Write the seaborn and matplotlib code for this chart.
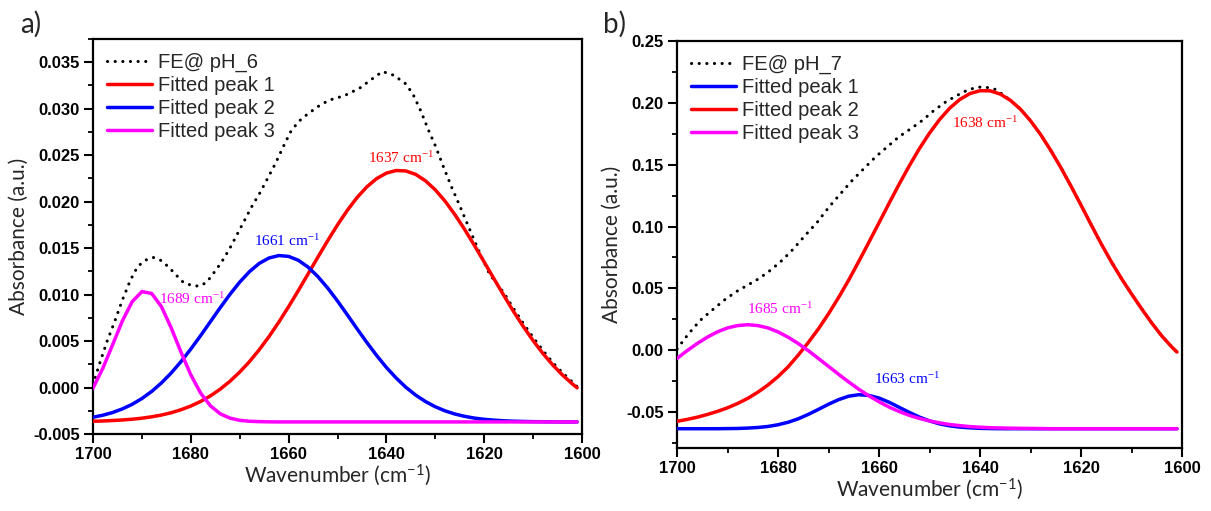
import matplotlib
matplotlib.use("Agg")
import matplotlib.pyplot as plt
import seaborn as sns
from matplotlib.ticker import MultipleLocator

# ---------------- data ----------------
fit_x = list(range(1700, 1601, -2)) + [1601]

# panel a (pH 6)
a_meas_x = [1700, 1698.7, 1697.1, 1695.5, 1694.0, 1692.4, 1690.9, 1689.3, 1687.7, 1686.2,
            1684.6, 1683.0, 1681.5, 1679.9, 1678.3, 1676.8, 1675.2, 1673.7, 1672.1, 1670.5,
            1669.0, 1667.4, 1665.8, 1664.3, 1662.7, 1661.1, 1659.6, 1658.0, 1656.4, 1654.1,
            1651.8, 1648.6, 1645.5, 1643.2, 1640.8, 1638.5, 1636.1, 1634.6, 1633.0, 1631.4,
            1629.9, 1628.3, 1626.7, 1625.2, 1623.6, 1622.0, 1620.5, 1618.9, 1616, 1614,
            1612, 1610, 1608, 1606, 1604, 1602, 1601]
a_meas_y = [0.0003, 0.0025, 0.0050, 0.0072, 0.0094, 0.0115, 0.0130, 0.0137, 0.0140, 0.0137,
            0.0130, 0.0121, 0.0113, 0.0110, 0.0109, 0.0113, 0.0124, 0.0135, 0.0149, 0.0165,
            0.0180, 0.0196, 0.0210, 0.0225, 0.0241, 0.0259, 0.0275, 0.0286, 0.0293, 0.0302,
            0.0309, 0.0314, 0.0322, 0.0331, 0.0340, 0.0336, 0.0327, 0.0316, 0.0298, 0.0277,
            0.0259, 0.0237, 0.0216, 0.0198, 0.0178, 0.0158, 0.0140, 0.0122, 0.0102, 0.0085,
            0.0069, 0.0054, 0.0040, 0.0027, 0.0016, 0.0006, 0.0001]
a_peak1 = [-0.00363, -0.00360, -0.00355, -0.00349, -0.00341, -0.00330, -0.00315, -0.00296, -0.00271, -0.00239,
           -0.00199, -0.00150, -0.00090, -0.00018, 0.00067, 0.00166, 0.00279, 0.00407, 0.00549, 0.00704,
           0.00870, 0.01044, 0.01224, 0.01404, 0.01581, 0.01750, 0.01906, 0.02044, 0.02159, 0.02248,
           0.02307, 0.02335, 0.02330, 0.02293, 0.02224, 0.02127, 0.02005, 0.01861, 0.01701, 0.01529,
           0.01350, 0.01170, 0.00992, 0.00818, 0.00656, 0.00505, 0.00367, 0.00244, 0.00135, 0.00040,
           -0.00003]
a_peak2 = [-0.00320, -0.00298, -0.00269, -0.00230, -0.00181, -0.00118, -0.00042, 0.00050, 0.00157, 0.00279,
           0.00414, 0.00558, 0.00708, 0.00858, 0.01002, 0.01134, 0.01247, 0.01336, 0.01394, 0.01420,
           0.01411, 0.01369, 0.01295, 0.01193, 0.01070, 0.00931, 0.00783, 0.00632, 0.00485, 0.00345,
           0.00216, 0.00102, 0.00002, -0.00082, -0.00151, -0.00207, -0.00251, -0.00285, -0.00310, -0.00329,
           -0.00342, -0.00351, -0.00358, -0.00362, -0.00365, -0.00367, -0.00368, -0.00369, -0.00370, -0.00370,
           -0.00370]
a_peak3 = [-0.00006, 0.00206, 0.00459, 0.00716, 0.00923, 0.01032, 0.01012, 0.00870, 0.00641, 0.00380,
           0.00137, -0.00059, -0.00196, -0.00282, -0.00329, -0.00353, -0.00363, -0.00367, -0.00369, -0.00370,
           -0.00370, -0.00370, -0.00370, -0.00370, -0.00370, -0.00370, -0.00370, -0.00370, -0.00370, -0.00370,
           -0.00370, -0.00370, -0.00370, -0.00370, -0.00370, -0.00370, -0.00370, -0.00370, -0.00370, -0.00370,
           -0.00370, -0.00370, -0.00370, -0.00370, -0.00370, -0.00370, -0.00370, -0.00370, -0.00370, -0.00370,
           -0.00370]

# panel b (pH 7)
b_meas_x = [1700, 1697.7, 1695.4, 1693.1, 1690.7, 1688.4, 1686.1, 1683.8, 1681.5, 1679.2,
            1676.9, 1674.6, 1672.2, 1669.9, 1667.6, 1665.3, 1663.0, 1660.7, 1658.4, 1656.1,
            1653.7, 1651.4, 1649.1, 1646.8, 1644.5, 1642.2, 1639.9, 1638.3, 1636.8, 1634,
            1632, 1630, 1628, 1626, 1624, 1622, 1620, 1618, 1616, 1614,
            1612, 1610, 1608, 1606, 1604, 1602, 1601]
b_meas_y = [0.0010, 0.0133, 0.0241, 0.0322, 0.0403, 0.0470, 0.0524, 0.0578, 0.0646, 0.0726,
            0.0821, 0.0929, 0.1036, 0.1158, 0.1266, 0.1373, 0.1468, 0.1562, 0.1643, 0.1724,
            0.1791, 0.1858, 0.1939, 0.2007, 0.2061, 0.2109, 0.2128, 0.2123, 0.2107, 0.2021,
            0.1949, 0.1855, 0.1744, 0.1616, 0.1477, 0.1328, 0.1173, 0.1015, 0.0860, 0.0715,
            0.0580, 0.0455, 0.0335, 0.0220, 0.0115, 0.0025, -0.0015]
b_peak1 = [-0.0635, -0.0635, -0.0635, -0.0635, -0.0635, -0.0634, -0.0633, -0.0630, -0.0625, -0.0617,
           -0.0603, -0.0583, -0.0555, -0.0519, -0.0479, -0.0437, -0.0400, -0.0372, -0.0360, -0.0366,
           -0.0387, -0.0421, -0.0462, -0.0503, -0.0541, -0.0572, -0.0596, -0.0612, -0.0622, -0.0628,
           -0.0632, -0.0634, -0.0635, -0.0635, -0.0635, -0.0635, -0.0635, -0.0635, -0.0635, -0.0635,
           -0.0635, -0.0635, -0.0635, -0.0635, -0.0635, -0.0635, -0.0635, -0.0635, -0.0635, -0.0635,
           -0.0635]
b_peak2 = [-0.0575, -0.0560, -0.0542, -0.0520, -0.0495, -0.0466, -0.0431, -0.0390, -0.0340, -0.0282,
           -0.0214, -0.0135, -0.0040, 0.0062, 0.0172, 0.0294, 0.0426, 0.0567, 0.0718, 0.0873,
           0.1030, 0.1188, 0.1343, 0.1491, 0.1630, 0.1755, 0.1865, 0.1957, 0.2027, 0.2075,
           0.2098, 0.2097, 0.2071, 0.2021, 0.1949, 0.1855, 0.1744, 0.1616, 0.1477, 0.1328,
           0.1173, 0.1015, 0.0860, 0.0715, 0.0580, 0.0455, 0.0335, 0.0220, 0.0115, 0.0025,
           -0.0015]
b_peak3 = [-0.0067, -0.0004, 0.0054, 0.0105, 0.0148, 0.0180, 0.0199, 0.0206, 0.0199, 0.0180,
           0.0148, 0.0105, 0.0054, -0.0004, -0.0067, -0.0131, -0.0195, -0.0257, -0.0316, -0.0369,
           -0.0417, -0.0460, -0.0496, -0.0527, -0.0552, -0.0572, -0.0588, -0.0601, -0.0610, -0.0618,
           -0.0623, -0.0627, -0.0629, -0.0631, -0.0632, -0.0633, -0.0634, -0.0635, -0.0635, -0.0635,
           -0.0635, -0.0635, -0.0635, -0.0635, -0.0635, -0.0635, -0.0635, -0.0635, -0.0635, -0.0635,
           -0.0635]

x_ticks = [1700, 1680, 1660, 1640, 1620, 1600]
x_ticklabels = ["1700", "1680", "1660", "1640", "1620", "1600"]
a_yticks = [-0.005, 0.000, 0.005, 0.010, 0.015, 0.020, 0.025, 0.030, 0.035]
a_yticklabels = ["-0.005", "0.000", "0.005", "0.010", "0.015", "0.020", "0.025", "0.030", "0.035"]
b_yticks = [-0.05, 0.00, 0.05, 0.10, 0.15, 0.20, 0.25]
b_yticklabels = ["-0.05", "0.00", "0.05", "0.10", "0.15", "0.20", "0.25"]

a_labels = ["FE@ pH_6", "Fitted peak 1", "Fitted peak 2", "Fitted peak 3"]
b_labels = ["FE@ pH_7", "Fitted peak 1", "Fitted peak 2", "Fitted peak 3"]
a_annot = [("1637 cm$^{-1}$", 1637.0, 0.0247, "#ff0000"),
           ("1661 cm$^{-1}$", 1660.4, 0.01575, "#0000ff"),
           ("1689 cm$^{-1}$", 1679.7, 0.00954, "#ff00ff")]
b_annot = [("1638 cm$^{-1}$", 1639.1, 0.1837, "#ff0000"),
           ("1685 cm$^{-1}$", 1679.6, 0.0336, "#ff00ff"),
           ("1663 cm$^{-1}$", 1654.5, -0.0230, "#0000ff")]

RED, BLUE, MAG = "#ff0000", "#0000ff", "#ff00ff"

# ---------------- style ----------------
sns.set_theme(style="ticks")
plt.rcParams['font.family'] = ['Liberation Sans', 'DejaVu Sans']
plt.rcParams['mathtext.default'] = 'regular'

fig = plt.figure(figsize=(12.11, 5.11), dpi=100)
axA = fig.add_axes([93 / 1211, 1 - 434 / 511, 489 / 1211, 395 / 511])
axB = fig.add_axes([677 / 1211, 1 - 448 / 511, 505 / 1211, 407 / 511])

dot_style = dict(linestyle=(0, (0.05, 2.45)), dash_capstyle='round')


def draw(ax, mx, my, series, labels):
    sns.lineplot(x=mx, y=my, ax=ax, color='black', lw=2.2, label=labels[0],
                 estimator=None, sort=False, zorder=2, **dot_style)
    for (ys, col), lab, z in zip(series, labels[1:], [3, 4, 5]):
        sns.lineplot(x=fit_x, y=ys, ax=ax, color=col, lw=2.5, label=lab,
                     estimator=None, sort=False, zorder=z)


draw(axA, a_meas_x, a_meas_y, [(a_peak1, RED), (a_peak2, BLUE), (a_peak3, MAG)], a_labels)
draw(axB, b_meas_x, b_meas_y, [(b_peak1, BLUE), (b_peak2, RED), (b_peak3, MAG)], b_labels)

for ax, yt, ytl, ylim, ymin, annots in [
        (axA, a_yticks, a_yticklabels, (-0.005, 0.0375), 0.0025, a_annot),
        (axB, b_yticks, b_yticklabels, (-0.0791, 0.25), 0.025, b_annot)]:
    ax.set_xlim(1700, 1600)
    ax.set_ylim(*ylim)
    ax.set_xticks(x_ticks)
    ax.set_xticklabels(x_ticklabels, fontweight='bold')
    ax.set_yticks(yt)
    ax.set_yticklabels(ytl, fontweight='bold')
    ax.xaxis.set_minor_locator(MultipleLocator(10))
    ax.yaxis.set_minor_locator(MultipleLocator(ymin))
    ax.tick_params(which='major', direction='out', length=6.5, width=1.5,
                   labelsize=12, color='black', labelcolor='black', pad=3,
                   top=False, right=False)
    ax.tick_params(which='minor', direction='out', length=3.5, width=1.3,
                   color='black', top=False, right=False)
    for sp in ax.spines.values():
        sp.set_linewidth(1.6)
        sp.set_color('black')
    ax.set_xlabel("Wavenumber (cm$^{-1}$)", family=['Lato', 'DejaVu Sans'], fontsize=15, labelpad=0)
    ax.set_ylabel("Absorbance (a.u.)", family=['Lato', 'DejaVu Sans'], fontsize=15, labelpad=3)
    for txt, x, y, c in annots:
        ax.text(x, y, txt, color=c, family=['Liberation Serif', 'DejaVu Serif'],
                fontsize=11, ha='center', va='center')
    leg = ax.legend(loc='upper left', frameon=False, fontsize=14.5, handlelength=2.25,
                    handletextpad=0.3, labelspacing=0.2, borderaxespad=0.3, borderpad=0.4)
    for h in leg.get_lines():
        h.set_linewidth(2.5)
    leg.get_lines()[0].set_linewidth(2.2)

fig.text(20 / 1211, 1 - 24 / 511, "a)", family=['Lato', 'DejaVu Sans'], fontsize=20, va='center', ha='left')
fig.text(603 / 1211, 1 - 24 / 511, "b)", family=['Lato', 'DejaVu Sans'], fontsize=20, va='center', ha='left')

fig.savefig("out.png", dpi=100, facecolor='white')
